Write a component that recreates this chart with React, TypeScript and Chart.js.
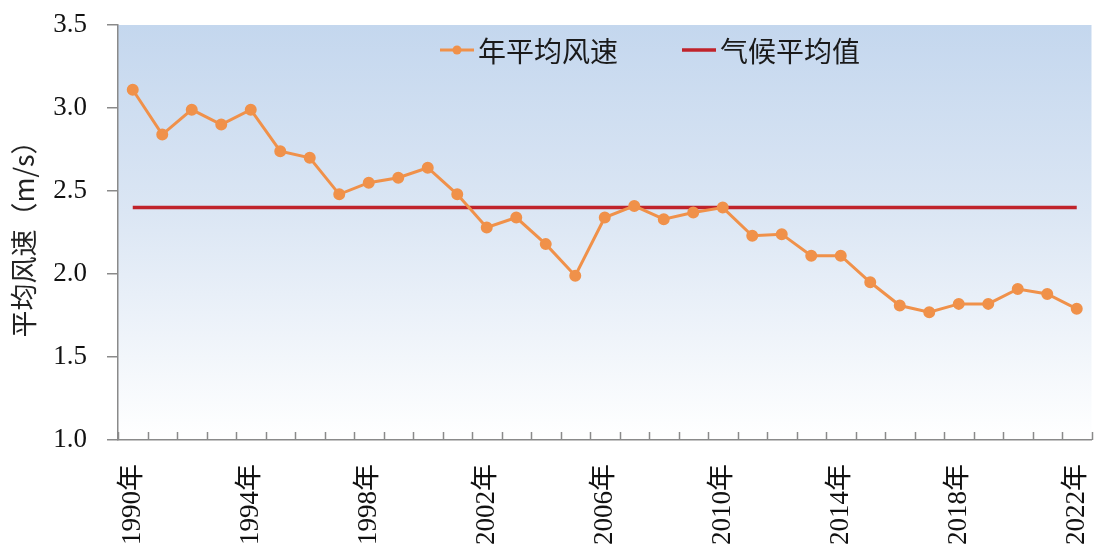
import { useEffect, useRef } from "react";
import { Chart, registerables } from "chart.js";

Chart.register(...registerables);

// Years on the category axis
const years = [
  "1990年", "1991年", "1992年", "1993年", "1994年", "1995年", "1996年", "1997年",
  "1998年", "1999年", "2000年", "2001年", "2002年", "2003年", "2004年", "2005年",
  "2006年", "2007年", "2008年", "2009年", "2010年", "2011年", "2012年", "2013年",
  "2014年", "2015年", "2016年", "2017年", "2018年", "2019年", "2020年", "2021年",
  "2022年",
];

// Labels actually printed under the axis
const shownYears = ["1990年", "1994年", "1998年", "2002年", "2006年", "2010年", "2014年", "2018年", "2022年"];

// Annual mean wind speed (m/s)
const annualWind = [
  3.11, 2.84, 2.99, 2.90, 2.99, 2.74, 2.70, 2.48,
  2.55, 2.58, 2.64, 2.48, 2.28, 2.34, 2.18, 1.99,
  2.34, 2.41, 2.33, 2.37, 2.40, 2.23, 2.24, 2.11,
  2.11, 1.95, 1.81, 1.77, 1.82, 1.82, 1.91, 1.88,
  1.79,
];

// Climatological mean (m/s)
const climateMean = 2.4;

const yTicks = [1.0, 1.5, 2.0, 2.5, 3.0, 3.5];

const SERIF = "'Liberation Serif', 'Noto Sans CJK SC', serif";
const CJK = "'Noto Sans CJK SC', sans-serif";

const plotBackground = {
  id: "plotBackground",
  beforeDraw(chart: any) {
    const { ctx, chartArea } = chart;
    const { left, top, right, bottom } = chartArea;
    const g = ctx.createLinearGradient(0, top, 0, bottom);
    g.addColorStop(0, "#c4d7ee");
    g.addColorStop(0.45, "#dbe6f4");
    g.addColorStop(0.8, "#f2f6fb");
    g.addColorStop(1, "#ffffff");
    ctx.save();
    ctx.fillStyle = g;
    ctx.fillRect(left, top, right - left, bottom - top);
    ctx.restore();
  },
};

// Short tick marks between categories, pointing up into the plot
const innerTicks = {
  id: "innerTicks",
  afterDraw(chart: any) {
    const { ctx, chartArea } = chart;
    const x = chart.scales.x;
    const n = x.getLabels().length;
    const step = x.getPixelForValue(1) - x.getPixelForValue(0);
    ctx.save();
    ctx.strokeStyle = "#8a8a8a";
    ctx.lineWidth = 1.5;
    ctx.beginPath();
    for (let i = 0; i <= n; i++) {
      const px = Math.round(x.getPixelForValue(i) - step / 2) + 0.5;
      ctx.moveTo(px, chartArea.bottom);
      ctx.lineTo(px, chartArea.bottom - 8);
    }
    ctx.stroke();
    ctx.restore();
  },
};

// Legend drawn inside the plot area
const insideLegend = {
  id: "insideLegend",
  afterDraw(chart: any) {
    const { ctx } = chart;
    const y = 50;
    let x = 440;
    ctx.save();
    ctx.font = `28px ${CJK}`;
    ctx.textBaseline = "middle";
    ctx.textAlign = "left";
    chart.data.datasets.forEach((ds: any) => {
      ctx.strokeStyle = ds.borderColor;
      ctx.lineWidth = ds.borderWidth;
      ctx.beginPath();
      ctx.moveTo(x, y);
      ctx.lineTo(x + 34, y);
      ctx.stroke();
      if (ds.pointRadius > 0) {
        ctx.fillStyle = ds.pointBackgroundColor;
        ctx.beginPath();
        ctx.arc(x + 17, y, ds.pointRadius, 0, Math.PI * 2);
        ctx.fill();
      }
      ctx.fillStyle = "#1a1a1a";
      ctx.fillText(ds.label, x + 38, y + 1);
      x += 38 + ctx.measureText(ds.label).width + 64;
    });
    ctx.restore();
  },
};

export default function App() {
  const canvasRef = useRef<HTMLCanvasElement | null>(null);

  useEffect(() => {
    document.body.style.margin = "0";
    const canvas = canvasRef.current;
    if (!canvas) return;
    const chart = new Chart(canvas, {
      type: "line",
      data: {
        labels: years,
        datasets: [
          {
            label: "年平均风速",
            data: annualWind,
            borderColor: "#f0914a",
            backgroundColor: "#f0914a",
            pointBackgroundColor: "#f0914a",
            pointBorderColor: "#f0914a",
            borderWidth: 3,
            pointRadius: 4.5,
            tension: 0,
          },
          {
            label: "气候平均值",
            data: years.map(() => climateMean),
            borderColor: "#c0232b",
            backgroundColor: "#c0232b",
            pointBackgroundColor: "#c0232b",
            borderWidth: 3.5,
            pointRadius: 0,
            tension: 0,
          },
        ],
      },
      options: {
        responsive: false,
        animation: false,
        layout: { padding: { top: 25, right: 5, left: 0, bottom: 0 } },
        plugins: {
          legend: { display: false },
          tooltip: { enabled: false },
        },
        scales: {
          x: {
            type: "category",
            offset: true,
            afterFit(scale: any) {
              scale.height = 150;
              scale.paddingLeft = 0;
              scale.paddingRight = 0;
            },
            grid: { display: false, offset: true },
            border: { display: true, color: "#8a8a8a", width: 1.5 },
            ticks: {
              autoSkip: false,
              maxRotation: 90,
              minRotation: 90,
              padding: 16,
              color: "#111",
              font: { size: 27, family: SERIF },
              callback(value: any) {
                const lab = years[value as number];
                return shownYears.includes(lab) ? lab : "";
              },
            },
          },
          y: {
            min: 1,
            max: 3.5,
            afterFit(scale: any) {
              scale.width = 118;
              scale.paddingTop = 0;
              scale.paddingBottom = 0;
            },
            afterBuildTicks(scale: any) {
              scale.ticks = yTicks.map((v) => ({ value: v }));
            },
            grid: {
              drawOnChartArea: false,
              drawTicks: true,
              tickLength: 11,
              color: "#8a8a8a",
              lineWidth: 1.5,
            },
            border: { display: true, color: "#8a8a8a", width: 1.5 },
            ticks: {
              padding: 20,
              color: "#111",
              font: { size: 27, family: SERIF },
              callback(value: any) {
                return Number(value).toFixed(1);
              },
            },
            title: {
              display: true,
              text: "平均风速（m/s）",
              color: "#222",
              font: { size: 27, family: CJK },
              padding: { top: 8, bottom: 0 },
            },
          },
        },
      },
      plugins: [plotBackground, innerTicks, insideLegend],
    });
    return () => chart.destroy();
  }, []);

  return (
    <div style={{ width: 1099, height: 544, overflow: "hidden", position: "relative", background: "#fff" }}>
      <canvas ref={canvasRef} width={1099} height={590} style={{ display: "block" }} />
    </div>
  );
}
